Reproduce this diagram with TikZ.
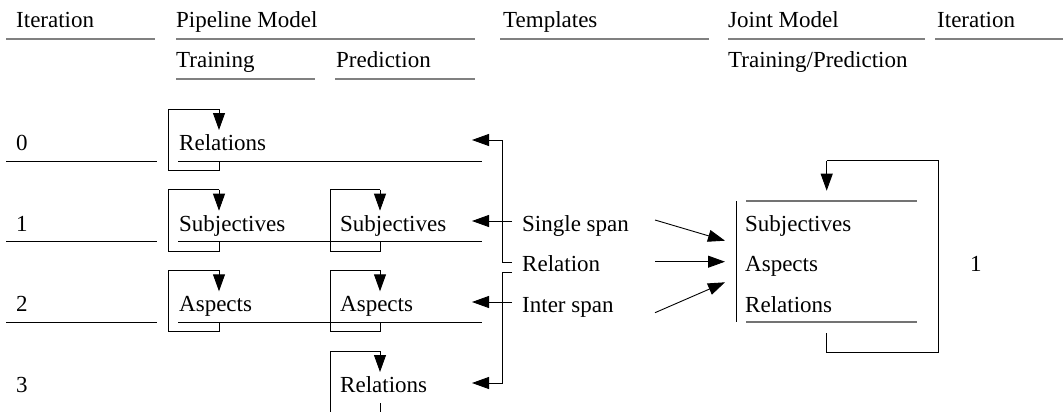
\documentclass[tikz,border=0pt]{standalone}
\usepackage{fontspec}
\setmainfont{Liberation Serif}
\usetikzlibrary{arrows.meta}
\begin{document}
\begin{tikzpicture}[x=1pt,y=-1pt,
  lbl/.style={anchor=base west,inner sep=0pt,font=\fontsize{23}{27}\selectfont},
  hrule/.style={draw=black!50,line width=1.4pt},
  rrule/.style={draw=black,line width=0.8pt},
  jrule/.style={draw=black!55,line width=1.2pt},
  conn/.style={draw=black,line width=0.9pt},
  arr/.style={conn,-{Triangle[length=17pt,width=12pt]}}]
\useasboundingbox (0,0) rectangle (1063,412);
\clip (0,0) rectangle (1063,412);
% ---------- header ----------
\node[lbl] (hIt) at (16,28) {Iteration};
\node[lbl] (hPM) at (176,28) {Pipeline Model};
\node[lbl] (hTe) at (503,28) {Templates};
\node[lbl] (hJM) at (728,28) {Joint Model};
\node[lbl] (hIt2) at (937,28) {Iteration};
\node[lbl] (hTr) at (176,68) {Training};
\node[lbl] (hPr) at (336,68) {Prediction};
\node[lbl] (hTP) at (728,68) {Training/Prediction};
\draw[hrule] (6,39) -- (155,39);
\draw[hrule] (176,39) -- (475,39);
\draw[hrule] (500,39) -- (709,39);
\draw[hrule] (728,39) -- (925,39);
\draw[hrule] (935,39) -- (1063,39);
\draw[hrule] (176,79) -- (315,79);
\draw[hrule] (335,79) -- (475,79);
% ---------- iteration numbers ----------
\node[lbl] (i0) at (16,150) {0};
\node[lbl] (i1) at (16,231) {1};
\node[lbl] (i2) at (16,311.5) {2};
\node[lbl] (i3) at (16,392.5) {3};
% ---------- row texts ----------
\node[lbl] (t0) at (179,150) {Relations};
\node[lbl] (t1) at (179,231) {Subjectives};
\node[lbl] (p1) at (340,231) {Subjectives};
\node[lbl] (t2) at (179,311.5) {Aspects};
\node[lbl] (p2) at (340,311.5) {Aspects};
\node[lbl] (p3) at (340,392.5) {Relations};
% row rules
\foreach \L in {161,241.7,322.3}{
  \draw[rrule] (6,\L) -- (157,\L);
  \draw[rrule] (178,\L) -- (482,\L);
}
% training loops
\foreach \L in {161,241.7,322.3}{
  \draw[conn] (219,\L) -- (219,\L+9.5) -- (168,\L+9.5) -- (168,\L-52) -- (219,\L-52);
  \draw[arr] (219,\L-52) -- (219,\L-31);
}
% prediction loops
\foreach \L in {241.7,322.3,403}{
  \draw[conn] (380,\L) -- (380,\L+9.5) -- (330,\L+9.5) -- (330,\L-52) -- (380,\L-52);
  \draw[arr] (380,\L-52) -- (380,\L-31);
}
% ---------- templates ----------
\node[lbl] (ss) at (522,231.5) {Single span};
\node[lbl] (rel) at (522,271.5) {Relation};
\node[lbl] (is) at (522,312) {Inter span};
\coordinate (bA) at (502,140);
\coordinate (bB) at (502,262.5);
\coordinate (bC) at (502,272.5);
\coordinate (bD) at (502,383);
\draw[arr] (512,262.5) -- (bB) -- (bA) -- (472,140);
\draw[arr] (512,272.5) -- (bC) -- (bD) -- (472,383);
\draw[arr] (512,221) -- (472,221);
\draw[arr] (512,302) -- (472,302);
% ---------- joint model ----------
\node[lbl] (js) at (745,231) {Subjectives};
\node[lbl] (ja) at (745,271.5) {Aspects};
\node[lbl] (jr) at (745,312) {Relations};
\node[lbl] (it1) at (970,271.7) {1};
\draw[conn] (736,201) -- (736,322);
\draw[jrule] (746,201) -- (917,201);
\draw[jrule] (746,322) -- (917,322);
\draw[conn] (826.7,333) -- (826.7,352.5) -- (938.3,352.5) -- (938.3,160.7) -- (826.7,160.7);
\draw[arr] (826.7,160.7) -- (826.7,190.7);
% template -> joint arrows
\draw[arr] (655,220) -- (725,240.7);
\draw[arr] (655,261.7) -- (725,261.7);
\draw[arr] (655,312.7) -- (725,282.3);
\end{tikzpicture}
\end{document}
